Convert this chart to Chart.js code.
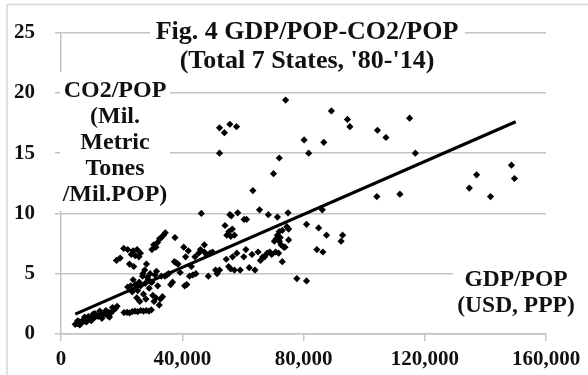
<!DOCTYPE html>
<html>
<head>
<meta charset="utf-8">
<script src="https://cdn.jsdelivr.net/npm/chart.js@4.4.1/dist/chart.umd.min.js"></script>
<style>
  html, body { margin: 0; padding: 0; background: #fff; }
  canvas { display: block; }
</style>
</head>
<body>
<canvas id="fig4" width="588" height="375"></canvas>
<script>
// GDP per person (USD, PPP) for each state-year
const gdpPop = [
  4700, 5200, 5600, 6000, 6500, 7000, 7500, 8000, 8600, 9200, 9800, 10400, 11000, 11600, 12300,
  13000, 13700, 14400, 15100, 15800, 16500, 17200, 17900, 18500, 6200, 9000, 11200, 13500, 16000, 10000,
  5500, 7800, 10600, 12800, 14800, 17000, 8400, 15500,
  20800, 21800, 22600, 23500, 24400, 25300, 26300, 27200, 28100, 29000, 29800,
  18300, 19500, 20700, 22000, 22600, 23200, 23800, 24500, 25100, 25700, 26200, 24000,
  30600, 31300, 31900, 32500, 33100, 33800, 34400, 30000,
  22000, 23000, 23800, 24600, 25300, 25800, 26300, 26900, 27200, 27600, 27800, 28200, 28500, 28800,
  29100, 29400, 29700, 30000, 30300, 30700, 31000, 31300, 31900, 32400, 32800, 33100, 33500, 34300,
  34900, 35500, 26000, 25000, 28000, 23500, 31500, 27000,
  36200, 36800, 37400, 37600, 38000, 38600, 39300, 40500, 40800, 41100, 41500, 42000, 42400, 43000,
  43500, 44200, 44500, 45400, 46000, 46300, 47300, 47300, 48000, 48600, 49200, 50000, 51000, 51500, 52300,
  54500, 55300, 56000, 56600, 57200, 58000, 59100, 60300, 61000, 62100, 63000, 64000, 65000, 65800,
  66600, 67200, 68000, 68900, 69500, 70800,
  54100, 54700, 55400, 56000, 57200, 56500,
  55700, 56200, 58300, 60400, 61200, 65500, 68400, 71400, 74900,
  70400, 71000, 71400, 72000, 72300, 72600, 73000, 73500, 73900, 74500, 75100, 75100, 73000, 71800, 72000,
  77800, 81000, 81000, 84400, 86400, 85000, 87600, 92400, 92900, 86200,
  74100, 89200, 94500, 95300, 104400, 107200, 115000, 116900, 80200, 81700, 86700, 52300, 53900, 55700,
  57900, 52300, 72000, 70100, 63300, 104200, 111800, 134700, 137100, 141700, 148600, 149600
];

// CO2 per person (Mil. metric tones / Mil. POP), same order as gdpPop
const co2Pop = [
  0.8, 0.9, 0.85, 1.0, 0.95, 1.1, 1.05, 1.2, 1.15, 1.3, 1.25, 1.4, 1.35, 1.5, 1.45,
  1.6, 1.55, 1.7, 1.6, 1.8, 1.75, 1.95, 2.1, 2.3, 0.75, 1.45, 1.7, 1.3, 1.4, 1.1,
  1.1, 1.4, 1.65, 1.9, 1.95, 2.2, 1.0, 1.5,
  1.78, 1.8, 1.75, 1.85, 1.9, 1.85, 1.95, 1.9, 1.95, 1.9, 2.0,
  6.1, 6.3, 7.1, 7.0, 5.8, 6.6, 6.9, 6.5, 7.0, 6.4, 6.7, 5.6,
  7.4, 7.2, 7.6, 7.9, 8.0, 8.2, 8.4, 7.0,
  3.9, 4.0, 4.5, 4.1, 3.6, 4.3, 4.0, 4.8, 3.3, 5.3, 4.2, 5.8, 4.7, 4.5,
  3.8, 5.0, 4.3, 4.3, 3.2, 2.7, 4.9, 3.0, 4.0, 2.4, 2.9, 4.8, 3.1, 4.8,
  4.9, 5.0, 2.7, 3.0, 2.9, 3.5, 5.2, 5.0,
  4.1, 4.3, 6.0, 8.0, 5.9, 5.8, 5.1, 7.2, 4.0, 6.4, 4.1, 6.9, 4.8, 5.6,
  4.9, 6.4, 5.0, 6.7, 7.0, 10.0, 7.4, 6.8, 6.6, 4.8, 6.7, 6.8, 5.3, 5.0, 5.3,
  6.2, 5.6, 5.4, 6.4, 5.3, 6.7, 5.3, 6.4, 7.0, 5.5, 6.6, 5.3, 6.8, 6.1,
  6.4, 6.4, 6.7, 6.8, 6.6, 6.8,
  9.0, 8.2, 8.5, 8.1, 8.2, 8.7,
  9.9, 9.8, 10.05, 9.5, 9.5, 10.3, 9.9, 9.7, 10.05,
  7.7, 7.9, 8.2, 7.7, 8.0, 7.4, 8.6, 7.2, 7.2, 8.9, 8.7, 7.8, 6.0, 6.7, 8.5,
  4.6, 4.4, 9.1, 7.0, 6.8, 8.8, 8.2, 7.7, 8.2, 10.3,
  19.4, 18.5, 17.8, 17.2, 16.9, 16.3, 17.9, 15.0, 16.1, 15.0, 15.9, 17.1, 16.7, 17.4,
  17.2, 15.0, 14.6, 13.3, 11.9, 11.4, 11.6, 12.1, 13.2, 11.4, 14.0, 12.9
];

// linear trend line end points
const trendX = [4700, 150000];
const trendY = [1.65, 17.6];

const xTickLabels = ['0', '40,000', '80,000', '120,000', '160,000'];
const yTickLabels = ['0', '5', '10', '15', '20', '25'];

const titleLines = ['Fig. 4 GDP/POP-CO2/POP', "(Total 7 States, '80-'14)"];
const yTitleLines = ['CO2/POP', '(Mil.', 'Metric', 'Tones', '/Mil.POP)'];
const xTitleLines = ['GDP/POP', '(USD, PPP)'];

const points = gdpPop.map((x, i) => ({ x: x, y: co2Pop[i] }));
const trend = trendX.map((x, i) => ({ x: x, y: trendY[i] }));

const gridGrey = '#c4c4c4';
const ink = '#111';
const serif = "'Liberation Serif', 'Times New Roman', serif";

// white label boxes over the grid + the text on top
const labelPlugin = {
  id: 'labels',
  beforeDatasetsDraw(chart) {
    const c = chart.ctx;
    c.save();
    c.fillStyle = '#fff';
    c.fillRect(150, 5, 315, 71);   // title
    c.fillRect(60, 72, 110, 139);  // y title
    c.fillRect(453, 262, 135, 62); // x title
    c.restore();
  },
  afterDraw(chart) {
    const c = chart.ctx;
    c.save();
    c.fillStyle = ink;
    c.textAlign = 'center';
    c.textBaseline = 'middle';
    c.font = 'bold 26px ' + serif;
    titleLines.forEach((t, i) => c.fillText(t, 307, 32 + i * 29));
    c.font = 'bold 24px ' + serif;
    yTitleLines.forEach((t, i) => c.fillText(t, 115, 91 + i * 26));
    c.font = 'bold 23.5px ' + serif;
    xTitleLines.forEach((t, i) => c.fillText(t, 516, 280 + i * 26));
    // outer frame
    c.strokeStyle = '#d6d6d6';
    c.lineWidth = 1.5;
    c.strokeRect(7, 4.5, 600, 400);
    c.restore();
  }
};

new Chart(document.getElementById('fig4'), {
  type: 'scatter',
  data: {
    datasets: [
      {
        data: points,
        pointStyle: 'rectRot',
        pointRadius: 3.6,
        backgroundColor: '#000',
        borderColor: '#000',
        borderWidth: 0
      },
      {
        type: 'line',
        data: trend,
        borderColor: '#000',
        borderWidth: 3.2,
        pointRadius: 0,
        fill: false
      }
    ]
  },
  options: {
    responsive: false,
    animation: false,
    layout: { padding: { top: 17, right: 42, left: 0, bottom: 0 } },
    plugins: { legend: { display: false }, tooltip: { enabled: false } },
    scales: {
      x: {
        type: 'linear',
        min: 0,
        max: 160000,
        afterFit: s => { s.height = 41; },
        ticks: {
          stepSize: 40000,
          padding: 6,
          color: ink,
          font: { family: serif, size: 21, weight: 'bold' },
          callback: v => xTickLabels[v / 40000]
        },
        grid: { drawOnChartArea: false, drawTicks: true, tickLength: 7, color: gridGrey, lineWidth: 1.5 },
        border: { color: gridGrey, width: 1.5 }
      },
      y: {
        min: 0,
        max: 25,
        afterFit: s => { s.width = 61; },
        ticks: {
          stepSize: 5,
          padding: 20,
          color: ink,
          font: { family: serif, size: 21, weight: 'bold' },
          callback: v => yTickLabels[v / 5]
        },
        grid: { color: gridGrey, lineWidth: 1.5, tickLength: 6 },
        border: { color: gridGrey, width: 1.5 }
      }
    }
  },
  plugins: [labelPlugin]
});
</script>
</body>
</html>
